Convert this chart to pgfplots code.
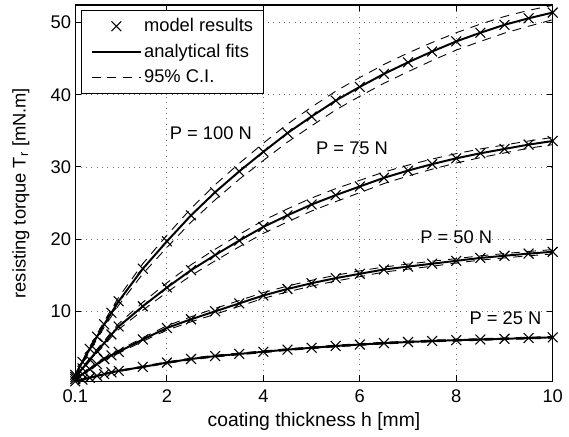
\documentclass[border=0pt]{standalone}
\usepackage{fontspec}
\setmainfont{Liberation Sans}
\usepackage{pgfplots}
\usepackage{pgfplotstable}
\pgfplotsset{compat=1.18}
\pgfplotstableread{
x    y25  d25  y50   d50  y75   d75  y100  d100
0.1  0.30 0.02 0.60  0.03 0.90  0.05 1.20  0.10
0.25 0.55 0.03 1.30  0.08 2.10  0.15 3.00  0.20
0.4  0.80 0.04 2.00  0.12 3.30  0.20 4.80  0.30
0.55 1.05 0.05 2.70  0.14 4.50  0.25 6.50  0.35
0.7  1.30 0.06 3.40  0.16 5.60  0.30 8.20  0.40
0.85 1.55 0.07 3.90  0.18 6.80  0.35 9.80  0.50
1.0  1.75 0.08 4.40  0.20 7.90  0.40 11.40 0.55
1.5  2.30 0.10 6.10  0.25 10.70 0.55 15.90 0.70
2    2.90 0.11 7.70  0.30 13.30 0.65 19.70 0.85
2.5  3.40 0.12 8.90  0.35 15.70 0.75 23.30 0.95
3    3.80 0.12 10.00 0.40 17.80 0.80 26.50 1.05
3.5  4.10 0.12 11.10 0.40 19.80 0.85 29.40 1.10
4    4.40 0.12 12.20 0.40 21.70 0.90 32.10 1.20
4.5  4.70 0.12 13.10 0.40 23.30 0.90 34.70 1.25
5    4.95 0.12 13.90 0.40 24.80 0.90 37.00 1.30
5.5  5.20 0.12 14.60 0.40 26.10 0.90 39.20 1.30
6    5.40 0.12 15.20 0.40 27.30 0.85 41.10 1.30
6.5  5.60 0.12 15.80 0.35 28.50 0.80 42.90 1.30
7    5.75 0.12 16.20 0.35 29.50 0.75 44.50 1.30
7.5  5.90 0.12 16.60 0.35 30.40 0.70 46.00 1.25
8    6.00 0.12 17.00 0.30 31.20 0.65 47.40 1.20
8.5  6.10 0.12 17.40 0.30 31.90 0.60 48.60 1.20
9    6.20 0.12 17.70 0.30 32.50 0.55 49.70 1.15
9.5  6.30 0.12 18.00 0.30 33.10 0.50 50.60 1.10
10   6.40 0.12 18.25 0.30 33.60 0.50 51.40 1.00
}\data
\newcommand{\fs}{\fontsize{18.5}{22}\selectfont}
\pgfplotsset{
  legmark/.style={legend image code/.code={\draw[##1] plot coordinates {(25pt,0pt)};}},
  legline/.style={legend image code/.code={\draw[##1] (0pt,0pt) -- (50pt,0pt);}},
}
\begin{document}
\fs
\begin{tikzpicture}[font=\fs]
\begin{axis}[
  name=ax,
  scale only axis, width=482pt, height=380pt,
  xmin=0.1, xmax=10, ymin=0.3, ymax=52.45,
  xtick={0.1,2,4,6,8,10}, xticklabels={0.1,2,4,6,8,10},
  ytick={10,20,30,40,50},
  tick align=inside, major tick length=6pt,
  xtick pos=both, ytick pos=both,
  grid=major,
  major grid style={black!55, line width=0.9pt, dash pattern=on 0.9pt off 4.5pt},
  axis line style={line width=1.2pt},
  every tick/.style={black, line width=1pt},
  /pgf/number format/assume math mode=true,
  tick label style={font=\fs},
  xticklabel style={yshift=-2pt},
  yticklabel style={xshift=2pt},
  label style={font=\fs},
  xlabel={coating thickness h [mm]},
  ylabel={resisting torque T\textsubscript{r} [mN.m]},
  xlabel style={at={(axis description cs:0.5,-0.107)}, anchor=center,
    font=\fontsize{19.5}{23}\selectfont},
  ylabel style={at={(axis description cs:-0.114,0.5)}, anchor=center},
  legend style={at={(0.0124,0.987)}, anchor=north west,
    draw=black, line width=1pt, font=\fs, row sep=6pt,
    inner xsep=9pt, inner ysep=6pt, cells={anchor=west}},
]
\addlegendimage{only marks, mark=x, mark size=7pt, line width=1pt, legmark}
\addlegendentry{model results}
\addlegendimage{line width=2pt, legline}
\addlegendentry{analytical fits\hspace{20pt}}
\addlegendimage{line width=0.9pt, dash pattern=on 9pt off 7pt, legline}
\addlegendentry{95\% C.I.}

\pgfplotsinvokeforeach{25,50,75,100}{
  \addplot[forget plot, black, line width=0.9pt, dash pattern=on 9pt off 7pt]
    table[x=x, y expr=\thisrow{y#1}+\thisrow{d#1}] {\data};
  \addplot[forget plot, black, line width=0.9pt, dash pattern=on 9pt off 7pt]
    table[x=x, y expr=\thisrow{y#1}-\thisrow{d#1}] {\data};
  \addplot[forget plot, black, line width=2pt] table[x=x, y=y#1] {\data};
  \addplot[forget plot, black, only marks, mark=x, mark size=7pt, line width=1.1pt]
    table[x=x, y=y#1] {\data};
}
\node at (axis cs:2.91,34.7) {P = 100 N};
\node at (axis cs:5.84,32.6) {P = 75 N};
\node at (axis cs:8.00,20.3) {P = 50 N};
\node at (axis cs:9.02,9.0) {P = 25 N};
\end{axis}
\path[use as bounding box] ([xshift=-76pt,yshift=-54pt]ax.south west) rectangle ([xshift=11pt,yshift=5pt]ax.north east);
\end{tikzpicture}
\end{document}
